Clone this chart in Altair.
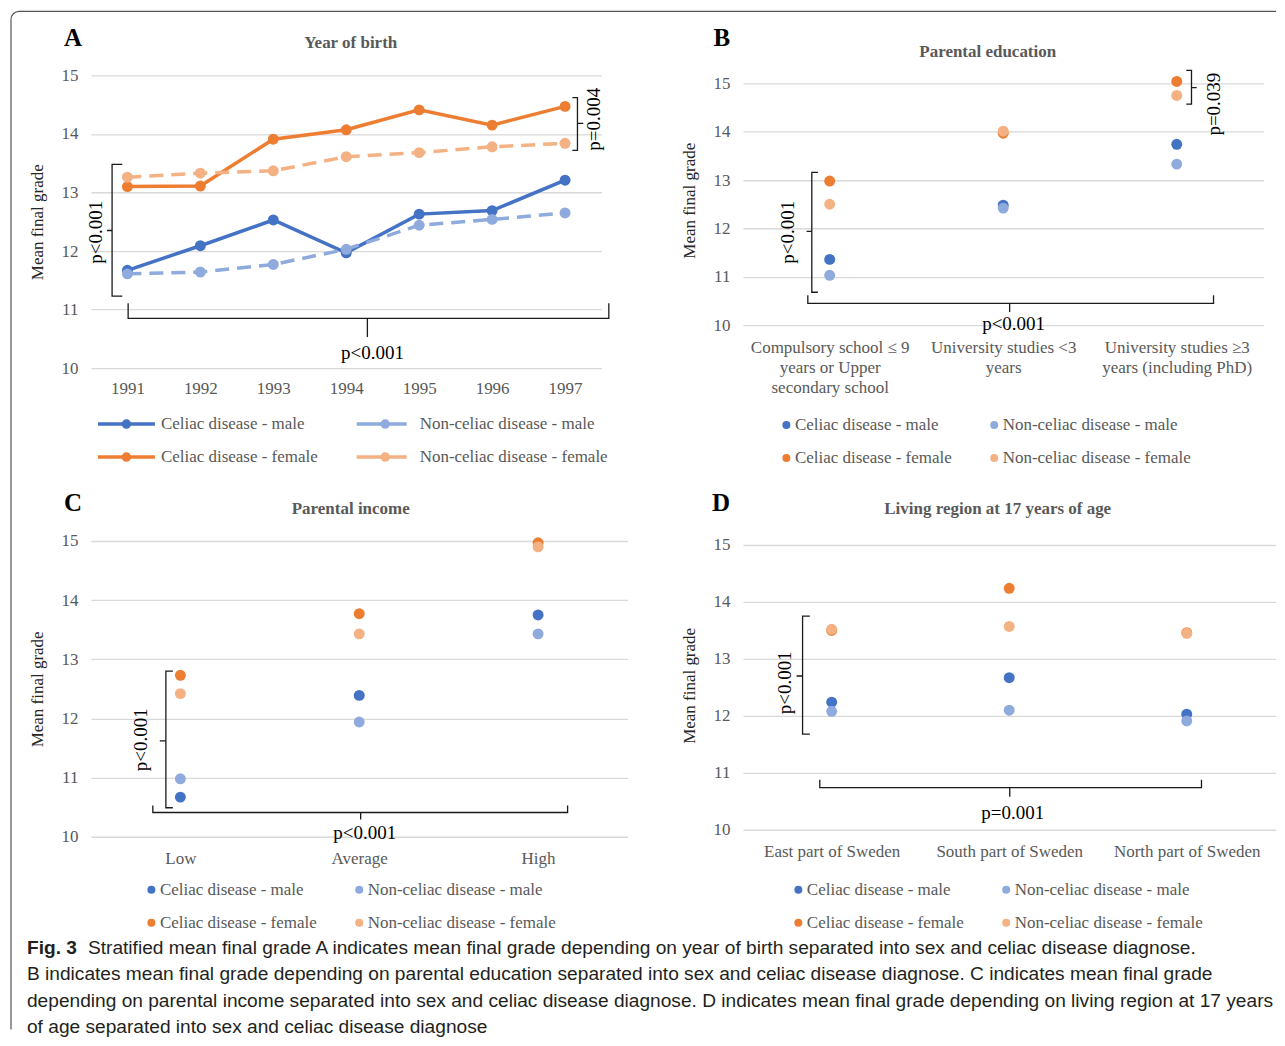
import json
import altair as alt
import pandas as pd

# ---------------- data ----------------
SERIES = ["Celiac disease - male", "Celiac disease - female",
          "Non-celiac disease - male", "Non-celiac disease - female"]
CEL = SERIES[:2]
NON = SERIES[2:]
CEL_COLORS = ["#4472C4", "#ED7D31"]
NON_COLORS = ["#8FAADC", "#F4B183"]

years = [1991, 1992, 1993, 1994, 1995, 1996, 1997]
a_cel_male = [11.67, 12.09, 12.53, 11.97, 12.63, 12.69, 13.21]
a_cel_female = [13.10, 13.11, 13.91, 14.07, 14.41, 14.15, 14.47]
a_non_male = [11.61, 11.64, 11.77, 12.03, 12.44, 12.54, 12.65]
a_non_female = [13.26, 13.33, 13.37, 13.61, 13.68, 13.78, 13.84]

edu_labels = [["Compulsory school \u2264 9", "years or Upper", "secondary school"],
              ["University studies <3", "years"],
              ["University studies \u22653", "years (including PhD)"]]
b_cel_male = [11.36, 12.48, 13.74]
b_cel_female = [12.98, 13.97, 15.04]
b_non_male = [11.03, 12.42, 13.33]
b_non_female = [12.50, 14.01, 14.75]

income_labels = ["Low", "Average", "High"]
c_cel_male = [10.67, 12.39, 13.75]
c_cel_female = [12.73, 13.77, 14.97]
c_non_male = [10.98, 11.94, 13.43]
c_non_female = [12.42, 13.43, 14.90]

region_labels = ["East part of Sweden", "South part of Sweden", "North part of Sweden"]
d_cel_male = [12.24, 12.67, 12.03]
d_cel_female = [13.50, 14.24, 13.46]
d_non_male = [12.08, 12.10, 11.91]
d_non_female = [13.52, 13.57, 13.45]

GRADE_TICKS = [10, 11, 12, 13, 14, 15]

CAPTION_BOLD = "Fig. 3"
CAPTION_LINE1 = ("Stratified mean final grade A indicates mean final grade depending on year of birth "
                 "separated into sex and celiac disease diagnose.")
CAPTION_REST = [
    "B indicates mean final grade depending on parental education separated into sex and celiac disease diagnose. C indicates mean final grade",
    "depending on parental income separated into sex and celiac disease diagnose. D indicates mean final grade depending on living region at 17 years",
    "of age separated into sex and celiac disease diagnose",
]

# ---------------- styling ----------------
SERIF = "Liberation Serif"
CAP_FONT = "Liberation Sans"
CAP_SIZE = 19.15
GRAY = "#595959"


def long_df(xs, cm, cf, nm, nf):
    rows = []
    for name, vals in zip(SERIES, [cm, cf, nm, nf]):
        for x, v in zip(xs, vals):
            rows.append({"x": x, "y": v, "series": name})
    return pd.DataFrame(rows)


def vbrace(bid, x, y_top, y_bot, y_mid, hook, tick):
    pts = [(x + hook, y_top), (x, y_top), (x, y_mid), (x + tick, y_mid),
           (x, y_mid), (x, y_bot), (x + hook, y_bot)]
    return [{"x": px, "y": py, "bid": bid, "o": i} for i, (px, py) in enumerate(pts)]


def hbrace(bid, x_l, x_r, x_m, y, hook, tick):
    pts = [(x_l, y + hook), (x_l, y), (x_m, y), (x_m, y + tick),
           (x_m, y), (x_r, y), (x_r, y + hook)]
    return [{"x": px, "y": py, "bid": bid, "o": i} for i, (px, py) in enumerate(pts)]


def yaxis():
    return alt.Axis(values=GRADE_TICKS, title="Mean final grade", grid=True, gridColor="#D9D9D9",
                    gridWidth=1.3, domain=False, ticks=False, labelFont=SERIF, labelFontSize=17,
                    labelColor=GRAY, labelPadding=13, titleFont=SERIF, titleFontSize=17,
                    titleFontWeight="normal", titleColor="#262626", titlePadding=14)


def xaxis(values, label_expr=None, fmt=None, pad=12):
    kw = dict(values=values, title=None, grid=False, domain=False, ticks=False, labelFont=SERIF,
              labelFontSize=17, labelColor=GRAY, labelPadding=pad, labelLimit=400,
              labelOverlap=False, labelFlush=False, labelLineHeight=20)
    if label_expr:
        kw["labelExpr"] = label_expr
    if fmt:
        kw["format"] = fmt
    return alt.Axis(**kw)


def legend(x, y, sym_type, sym_size, stroke_w=0, dash=None, offset=4):
    kw = dict(orient="none", legendX=x, legendY=y, title=None, direction="vertical",
              labelFont=SERIF, labelFontSize=17, labelColor=GRAY, labelLimit=400,
              symbolType=sym_type, symbolSize=sym_size, symbolStrokeWidth=stroke_w,
              clipHeight=16, rowPadding=16, labelOffset=offset, symbolOpacity=1, padding=0)
    if dash:
        kw["symbolDash"] = dash
    return alt.Legend(**kw)


def text_value(text, x, y, size, weight="normal", color="#000000", align="center", font=SERIF,
               baseline="middle", line_height=None):
    mk = dict(font=font, fontSize=size, fontWeight=weight, color=color, align=align, baseline=baseline)
    if line_height:
        mk["lineHeight"] = line_height
    return alt.Chart(pd.DataFrame({"k": [0]})).mark_text(**mk).encode(
        text=alt.value(text), x=alt.value(x), y=alt.value(y))


def annotations(xs, ys, braces, texts):
    bdf = pd.DataFrame(braces)
    br = alt.Chart(bdf).mark_line(color="#1A1A1A", strokeWidth=1.3).encode(
        x=xs, y=ys, detail="bid:N", order="o:Q")
    tdf = pd.DataFrame(texts)
    rot = alt.Chart(tdf[tdf["rot"]]).mark_text(font=SERIF, fontSize=19, color="#000000",
                                              angle=270, align="center", baseline="middle").encode(
        x=xs, y=ys, text="t:N")
    hor = alt.Chart(tdf[~tdf["rot"]]).mark_text(font=SERIF, fontSize=19, color="#000000",
                                               align="center", baseline="middle").encode(
        x=xs, y=ys, text="t:N")
    return [br, rot, hor]


# legend glyph: two concentric small circles (drawn first, a solid dot) then the line
CUSTOM_SYM = ("M0.0614,0A0.0614,0.0614,0,1,1,-0.0614,0A0.0614,0.0614,0,1,1,0.0614,0Z"
              "M0.105,0A0.105,0.105,0,1,1,-0.105,0A0.105,0.105,0,1,1,0.105,0Z"
              "M-1,0L1,0")


# ---------------- panel A ----------------
def panel_a():
    df = long_df(years, a_cel_male, a_cel_female, a_non_male, a_non_female)
    xsc = alt.Scale(domain=[1990.5, 1997.5], nice=False, zero=False)
    ysc = alt.Scale(domain=[10, 15], nice=False, zero=False)
    xs = alt.X("x:Q", scale=xsc, axis=xaxis(years, fmt="d"))
    ys = alt.Y("y:Q", scale=ysc, axis=yaxis())
    cel = df[df["series"].isin(CEL)]
    non = df[df["series"].isin(NON)]
    leg_c = legend(5, 341, CUSTOM_SYM, 3249, stroke_w=3.5, offset=4)
    leg_n = legend(264, 341, CUSTOM_SYM, 3249, stroke_w=3.5, dash=[50, 17], offset=4)
    csc = alt.Scale(domain=CEL, range=CEL_COLORS)
    nsc = alt.Scale(domain=NON, range=NON_COLORS)
    l1 = alt.Chart(cel).mark_line(strokeWidth=3.5).encode(
        x=xs, y=ys, color=alt.Color("series:N", scale=csc, legend=leg_c))
    p1 = alt.Chart(cel).mark_point(filled=True, size=120, opacity=1).encode(
        x=xs, y=ys, color=alt.Color("series:N", scale=csc, legend=leg_c))
    l2 = alt.Chart(non).mark_line(strokeWidth=3.5, strokeDash=[14, 8]).encode(
        x=xs, y=ys, stroke=alt.Stroke("series:N", scale=nsc, legend=leg_n))
    p2 = alt.Chart(non).mark_point(filled=True, size=120, opacity=1).encode(
        x=xs, y=ys, fill=alt.Fill("series:N", scale=nsc, legend=None))
    braces = (vbrace("l", 1990.79, 13.48, 11.23, 12.35, 0.14, -0.07)
              + hbrace("b", 1991.01, 1997.60, 1994.29, 10.85, 0.26, -0.32)
              + vbrace("r", 1997.17, 14.62, 13.72, 14.18, -0.07, 0.08))
    texts = [{"t": "p<0.001", "x": 1990.57, "y": 12.32, "rot": True},
             {"t": "p<0.001", "x": 1994.36, "y": 10.26, "rot": False},
             {"t": "p=0.004", "x": 1997.39, "y": 14.25, "rot": True}]
    ann = annotations(xs, ys, braces, texts)
    one = pd.DataFrame({"k": [0]})
    frame_l = alt.Chart(one).mark_rule(color="#555555", strokeWidth=1.2).encode(
        x=alt.value(-80), y=alt.value(-56), y2=alt.value(955))
    frame_t = alt.Chart(one).mark_rule(color="#555555", strokeWidth=1.2).encode(
        y=alt.value(-64), x=alt.value(-72), x2=alt.value(1186))
    frame_c = alt.Chart(one).mark_arc(radius=8.6, radius2=7.4, theta=4.7124, theta2=6.2832,
                                      color="#555555").encode(x=alt.value(-72), y=alt.value(-56))
    letter = text_value("A", -18, -37, 25, weight="bold")
    title = text_value("Year of birth", 260, -32, 17, weight="bold", color=GRAY)
    return alt.layer(l1, p1, l2, p2, *ann, frame_l, frame_t, frame_c, letter, title).properties(
        width=511, height=293)


def point_panel(xlabels_expr, n, cm, cf, nm, nf, ymax, width, height, leg_pos, braces, texts,
                letter_txt, letter_pos, title_txt, title_pos, extra=None):
    idx = list(range(n))
    df = long_df(idx, cm, cf, nm, nf)
    xsc = alt.Scale(domain=[-0.5, n - 0.5], nice=False, zero=False)
    ysc = alt.Scale(domain=[10, ymax], nice=False, zero=False)
    xs = alt.X("x:Q", scale=xsc, axis=xaxis(idx, label_expr=xlabels_expr, pad=14))
    ys = alt.Y("y:Q", scale=ysc, axis=yaxis())
    cel = df[df["series"].isin(CEL)]
    non = df[df["series"].isin(NON)]
    leg_c = legend(leg_pos[0], leg_pos[2], "circle", 64, offset=0)
    leg_n = legend(leg_pos[1], leg_pos[2], "circle", 64, offset=0)
    p1 = alt.Chart(cel).mark_point(filled=True, size=120, opacity=1).encode(
        x=xs, y=ys, color=alt.Color("series:N", scale=alt.Scale(domain=CEL, range=CEL_COLORS),
                                    legend=leg_c))
    p2 = alt.Chart(non).mark_point(filled=True, size=120, opacity=1).encode(
        x=xs, y=ys, fill=alt.Fill("series:N", scale=alt.Scale(domain=NON, range=NON_COLORS),
                                  legend=leg_n))
    ann = annotations(xs, ys, braces, texts)
    letter = text_value(letter_txt, letter_pos[0], letter_pos[1], 25, weight="bold")
    title = text_value(title_txt, title_pos[0], title_pos[1], 17, weight="bold", color=GRAY)
    layers = [p1, p2, *ann, letter, title]
    if extra:
        layers += extra
    return alt.layer(*layers).properties(width=width, height=height)


def panel_b():
    expr = json.dumps(edu_labels, ensure_ascii=False) + "[datum.value]"
    braces = (vbrace("l", -0.103, 13.16, 10.68, 11.94, 0.035, -0.03)
              + hbrace("b", -0.126, 2.212, 1.037, 10.45, 0.17, -0.18)
              + vbrace("r", 2.085, 15.27, 14.57, 14.91, -0.03, 0.03))
    texts = [{"t": "p<0.001", "x": -0.241, "y": 11.92, "rot": True},
             {"t": "p<0.001", "x": 1.06, "y": 10.02, "rot": False},
             {"t": "p=0.039", "x": 2.212, "y": 14.57, "rot": True}]
    return point_panel(expr, 3, b_cel_male, b_cel_female, b_non_male, b_non_female,
                       15 + 8 / 48.4, 521, 250, (35, 243, 342), braces, texts,
                       "B", (-21, -37), "Parental education", (245, -23))


def panel_c():
    expr = json.dumps(income_labels, ensure_ascii=False) + "[datum.value]"
    braces = (vbrace("l", -0.081, 12.80, 10.49, 11.62, 0.039, -0.034)
              + hbrace("b", -0.154, 2.165, 1.008, 10.41, 0.12, -0.12))
    texts = [{"t": "p<0.001", "x": -0.221, "y": 11.64, "rot": True},
             {"t": "p<0.001", "x": 1.031, "y": 10.07, "rot": False}]
    caption = [
        text_value(CAPTION_BOLD, -64, 413, CAP_SIZE, weight="bold", color="#231F20", align="left",
                   font=CAP_FONT, baseline="alphabetic"),
        text_value(CAPTION_LINE1, -3, 413, CAP_SIZE, color="#231F20", align="left", font=CAP_FONT,
                   baseline="alphabetic"),
        text_value(CAPTION_REST, -64, 439.5, CAP_SIZE, color="#231F20", align="left", font=CAP_FONT,
                   baseline="alphabetic", line_height=26.5),
    ]
    return point_panel(expr, 3, c_cel_male, c_cel_female, c_non_male, c_non_female,
                       15, 537, 296, (52, 260, 341), braces, texts,
                       "C", (-18, -38), "Parental income", (260, -32), extra=caption)


def panel_d():
    expr = json.dumps(region_labels, ensure_ascii=False) + "[datum.value]"
    braces = (vbrace("l", -0.164, 13.75, 11.68, 12.70, 0.041, -0.034)
              + hbrace("b", -0.067, 2.083, 1.003, 10.74, 0.14, -0.16))
    texts = [{"t": "p<0.001", "x": -0.264, "y": 12.58, "rot": True},
             {"t": "p=0.001", "x": 1.02, "y": 10.30, "rot": False}]
    return point_panel(expr, 3, d_cel_male, d_cel_female, d_non_male, d_non_female,
                       15 + 4 / 57, 533, 289, (47, 255, 341), braces, texts,
                       "D", (-22, -38), "Living region at 17 years of age", (255, -32))


IND = dict(color="independent", fill="independent", stroke="independent")

chart = (alt.concat(panel_a(), panel_b(), panel_c(), panel_d(), columns=2,
                    spacing={"row": 173, "column": 115.5}, bounds="flush")
         .resolve_scale(**IND).resolve_legend(**IND)
         .properties(padding={"left": 2, "top": 2, "right": 0, "bottom": 0})
         .configure_view(stroke=None))

chart.save("out.html", embed_options={"renderer": "svg", "actions": False})
